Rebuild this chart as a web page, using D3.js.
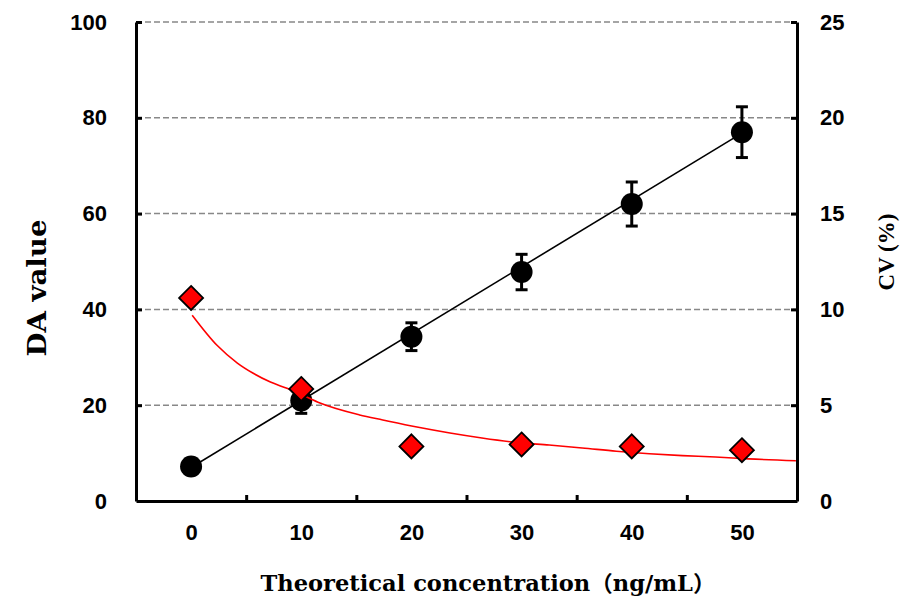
<html>
<head>
<script src="https://d3js.org/d3.v7.min.js"></script>
<style>
  body { margin: 0; background: #fff; }
  .tick text { font-family: "Liberation Sans", Arial, sans-serif; font-weight: bold; font-size: 22px; fill: #000; }
</style>
</head>
<body>
<svg id="chart" width="908" height="601"></svg>
<script>
// data
const concentrations = [0, 10, 20, 30, 40, 50];
const daValues = [7.2, 21.0, 34.3, 47.8, 62.0, 77.0];
const daErrors = [1.3, 2.7, 2.9, 3.7, 4.6, 5.3];
const cvValues = [10.6, 5.85, 2.85, 2.95, 2.85, 2.65];
const daTrend = [[0, 7.0], [50, 76.8]];
const cvTrendX = [0.1, 2.4, 4.2, 5.6, 7.2, 8.7, 10.1, 11.7, 15.3, 17.4, 20.5, 23.5, 26.4, 29.5, 32.5, 35.5, 38.6, 41.6, 44.6, 47.6, 50.6, 54.9];
const cvTrendY = [9.7, 8.1, 7.2, 6.68, 6.21, 5.88, 5.53, 5.11, 4.49, 4.23, 3.86, 3.55, 3.29, 3.06, 2.92, 2.77, 2.6, 2.47, 2.37, 2.3, 2.2, 2.1];
const xLabelTicks = [0, 10, 20, 30, 40, 50];
const xMarkTicks = [-5, 5, 15, 25, 35, 45, 55];
const leftTicks = [0, 20, 40, 60, 80, 100];
const rightTicks = [0, 5, 10, 15, 20, 25];

const svg = d3.select("svg#chart");
const margin = { top: 22, right: 111, bottom: 100, left: 136 };
const width = +svg.attr("width"), height = +svg.attr("height");
const chartWidth = width - margin.left - margin.right;
const chartHeight = height - margin.top - margin.bottom;

const x = d3.scaleLinear().domain([-5, 55]).range([0, chartWidth]);
const yLeft = d3.scaleLinear().domain([0, 100]).range([chartHeight, 0]);
const yRight = d3.scaleLinear().domain([0, 25]).range([chartHeight, 0]);

const g = svg.append("g").attr("transform", `translate(${margin.left},${margin.top})`);

// gridlines
g.append("g")
  .selectAll("line")
  .data(leftTicks.filter(d => d > 0))
  .join("line")
  .attr("x1", 0).attr("x2", chartWidth)
  .attr("y1", d => yLeft(d)).attr("y2", d => yLeft(d))
  .attr("stroke", "#888").attr("stroke-width", 1.5)
  .attr("stroke-dasharray", "6,3");

// axes
const leftAxis = g.append("g")
  .call(d3.axisLeft(yLeft).tickValues(leftTicks).tickSizeInner(-6).tickSizeOuter(0).tickPadding(29));
const rightAxis = g.append("g").attr("transform", `translate(${chartWidth},0)`)
  .call(d3.axisRight(yRight).tickValues(rightTicks).tickSizeInner(-6).tickSizeOuter(0).tickPadding(23));
const bottomMarks = g.append("g").attr("transform", `translate(0,${chartHeight})`)
  .call(d3.axisBottom(x).tickValues(xMarkTicks).tickSizeInner(-6).tickSizeOuter(0).tickFormat(""));
const bottomLabels = g.append("g").attr("transform", `translate(0,${chartHeight})`)
  .call(d3.axisBottom(x).tickValues(xLabelTicks).tickSize(0).tickPadding(23));
bottomLabels.select(".domain").remove();

[leftAxis, rightAxis, bottomMarks].forEach(a => {
  a.select(".domain").attr("stroke", "#000").attr("stroke-width", 3);
  a.selectAll(".tick line").attr("stroke", "#000").attr("stroke-width", 3);
});
leftAxis.selectAll(".tick line").filter(d => d === 0).remove();
rightAxis.selectAll(".tick line").filter(d => d === 0).remove();

// DA linear trendline
const line = d3.line().x(d => x(d[0])).y(d => yLeft(d[1]));
g.append("path").attr("d", line(daTrend))
  .attr("fill", "none").attr("stroke", "#000").attr("stroke-width", 1.6);

// error bars
const da = concentrations.map((c, i) => ({ c: c, v: daValues[i], e: daErrors[i] }));
const eb = g.append("g").attr("stroke", "#000");
eb.selectAll("line.v").data(da).join("line").attr("class", "v")
  .attr("x1", d => x(d.c)).attr("x2", d => x(d.c))
  .attr("y1", d => yLeft(d.v + d.e)).attr("y2", d => yLeft(d.v - d.e))
  .attr("stroke-width", 3);
eb.selectAll("line.top").data(da).join("line").attr("class", "top")
  .attr("x1", d => x(d.c) - 6).attr("x2", d => x(d.c) + 6)
  .attr("y1", d => yLeft(d.v + d.e)).attr("y2", d => yLeft(d.v + d.e))
  .attr("stroke-width", 3);
eb.selectAll("line.bot").data(da).join("line").attr("class", "bot")
  .attr("x1", d => x(d.c) - 6).attr("x2", d => x(d.c) + 6)
  .attr("y1", d => yLeft(d.v - d.e)).attr("y2", d => yLeft(d.v - d.e))
  .attr("stroke-width", 3);

// DA circles
g.append("g").selectAll("circle").data(da).join("circle")
  .attr("cx", d => x(d.c)).attr("cy", d => yLeft(d.v)).attr("r", 11)
  .attr("fill", "#000");

// CV trend curve (drawn over the DA series)
const cvTrend = cvTrendX.map((v, i) => [v, cvTrendY[i]]);
g.append("path")
  .attr("d", d3.line().x(d => x(d[0])).y(d => yRight(d[1])).curve(d3.curveMonotoneX)(cvTrend))
  .attr("fill", "none").attr("stroke", "#ff0000").attr("stroke-width", 1.6);

// CV diamonds
g.append("g").selectAll("path")
  .data(concentrations.map((c, i) => [c, cvValues[i]]))
  .join("path")
  .attr("transform", d => `translate(${x(d[0])},${yRight(d[1])})`)
  .attr("d", "M0,-12L12,0L0,12L-12,0Z")
  .attr("fill", "#ff0000").attr("stroke", "#000").attr("stroke-width", 1.8);

// titles
svg.append("text")
  .attr("x", 488).attr("y", 591)
  .attr("text-anchor", "middle")
  .attr("textLength", 455).attr("lengthAdjust", "spacingAndGlyphs")
  .style("font-family", "'DejaVu Serif', 'Noto Sans CJK SC', serif")
  .style("font-weight", "bold").style("font-size", "22px")
  .text("Theoretical concentration（ng/mL）");

svg.append("text")
  .attr("transform", "translate(46,288) rotate(-90)")
  .attr("text-anchor", "middle")
  .attr("textLength", 137).attr("lengthAdjust", "spacingAndGlyphs")
  .style("font-family", "'DejaVu Serif', serif")
  .style("font-weight", "bold").style("font-size", "26px")
  .text("DA value");

svg.append("text")
  .attr("transform", "translate(894,252) rotate(-90)")
  .attr("text-anchor", "middle")
  .style("font-family", "'Liberation Serif', serif")
  .style("font-weight", "bold").style("font-size", "23px")
  .text("CV (%)");
</script>
</body>
</html>
